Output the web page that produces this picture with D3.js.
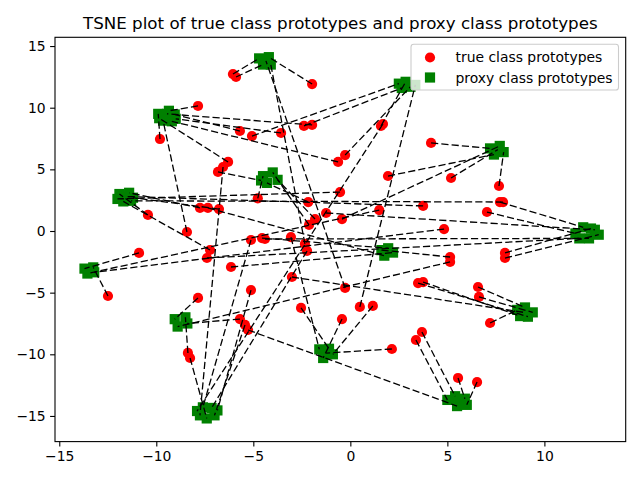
<!DOCTYPE html>
<html>
<head>
<meta charset="utf-8">
<title>TSNE plot of prototypes</title>
<script src="https://cdn.jsdelivr.net/npm/d3@7/dist/d3.min.js"></script>
<style>
body { margin: 0; background: #fff; }
svg text { font-family: "DejaVu Sans", sans-serif; fill: #000; }
</style>
</head>
<body>
<script>
// true class prototypes (red) and the proxy each one is linked to (green)
var trueX = [-6.05, -5.89, -1.97, -2.34, -0.27,
             -5.07, -2.39, 1.58, -0.27, 0.49,
             -7.85, -9.81, -5.69, -3.57, -1.97, -0.63, -8.42, -6.30,
             4.16, 1.94, 5.19, 7.66, -0.43,
             -4.77, -2.13, -1.82, -2.17, -6.82,
             -10.43, -7.75, -6.77, -7.23, -0.53, 3.75, 7.87,
             7.04, 7.71, 7.97, 7.97, -4.40, -7.39, -1.25,
             5.14, -4.55, -6.15, -7.34,
             -10.89, -12.49, 4.83, 1.49,
             7.20, 6.58, 6.63, 3.49, 3.75, -3.01,
             -7.85, -8.37, -5.69, 5.14,
             -3.06, -2.54, 1.16, -0.43, 2.14,
             1.68, -5.12, -2.23, -5.12, -5.43, -8.26, -6.56,
             3.38, 3.69, 5.55, 6.53, -5.27];
var trueY = [12.73, 12.49, 11.92, -1.05, -4.62,
             7.70, 8.52, 8.52, 6.16, -6.16,
             10.14, 7.46, 8.11, 7.95, 8.60, 5.60, -0.08, 5.60,
             7.14, 4.46, 4.30, 3.65, 0.97,
             2.65, 0.49, 0.97, 2.35, 4.79,
             1.30, 1.87, 1.78, -1.54, 3.16, 2.03, 2.35,
             1.54, 2.35, -1.78, -2.19, -0.65, -2.19, 1.46,
             -2.11, -0.57, -2.92, 1.87,
             -1.78, -5.27, 0.16, 1.70,
             -7.46, -4.54, -5.35, -4.22, -4.14, -3.73,
             -5.43, -9.89, -7.14, -2.51,
             -0.49, -6.24, -6.08, -7.14, -9.57,
             8.68, -0.73, -1.62, -4.79, -7.62, -10.30, 5.19,
             -8.84, -8.19, -11.92, -12.25, -8.03];
var proxyX = [-4.7, -4.5, -4.2, -4.1, -4.35,
              2.5, 2.65, 2.85, 3.1, 3.35,
              -9.35, -9.9, -9.05, -9.0, -9.45, -9.2, -9.65, -9.85,
              7.2, 7.4, 7.6, 7.9, 7.7,
              -4.5, -4.0, -3.75, -4.3, -4.6,
              -11.9, -11.4, -11.2, -11.7, -12.0, -11.55, -11.3,
              11.6, 12.0, 12.4, 12.8, 12.3, 11.8, 12.6,
              1.6, 1.95, 2.2, 1.75,
              -13.7, -13.25, -13.2, -13.55,
              8.6, 9.0, 9.4, 9.15, 8.75, 8.95,
              -9.05, -8.5, -8.4, -8.9,
              -1.6, -1.1, -0.9, -1.4, -1.25,
              -7.9, -7.6, -7.15, -6.85, -7.0, -7.4, -7.75,
              5.0, 5.4, 5.9, 6.0, 5.5];
var proxyY = [14.0, 13.5, 14.1, 13.5, 13.8,
              11.95, 11.6, 12.1, 11.7, 11.85,
              9.75, 9.5, 9.45, 9.1, 9.5, 8.9, 8.95, 9.15,
              6.7, 6.2, 6.6, 6.4, 6.9,
              4.45, 4.75, 4.15, 3.9, 4.1,
              3.0, 3.1, 2.7, 2.4, 2.6, 2.8, 2.45,
              -0.2, 0.3, 0.2, -0.3, -0.6, -0.6, 0.1,
              -1.55, -1.4, -1.75, -2.0,
              -3.05, -2.95, -3.35, -3.45,
              -6.4, -6.2, -6.6, -6.95, -6.9, -6.6,
              -7.15, -7.0, -7.5, -7.75,
              -9.6, -9.55, -10.0, -10.3, -9.9,
              -14.6, -14.3, -14.35, -14.55, -14.95, -15.2, -14.95,
              -13.7, -13.4, -13.6, -14.1, -14.2];

var xTicks = [-15, -10, -5, 0, 5, 10];
var yTicks = [-15, -10, -5, 0, 5, 10, 15];
var legendLabels = ["true class prototypes", "proxy class prototypes"];

var W = 640, H = 480;
var axL = 55, axR = 625.7, axT = 37.3, axB = 441.6;
var ms = 10.2; // marker size in px (face + edge)

var x = d3.scaleLinear().domain([-15.22, 14.19]).range([axL, axR]);
var y = d3.scaleLinear().domain([-17.08, 15.71]).range([axB, axT]);

var svg = d3.select("body").append("svg").attr("width", W).attr("height", H);

var pts = trueX.map(function(d, i) {
  return { tx: d, ty: trueY[i], px: proxyX[i], py: proxyY[i] };
});

// red true prototypes
svg.append("g").selectAll("circle").data(pts).enter().append("circle")
  .attr("cx", function(d) { return x(d.tx); })
  .attr("cy", function(d) { return y(d.ty); })
  .attr("r", ms / 2)
  .attr("fill", "#ff0000");

// green proxy prototypes
svg.append("g").selectAll("rect").data(pts).enter().append("rect")
  .attr("x", function(d) { return x(d.px) - ms / 2; })
  .attr("y", function(d) { return y(d.py) - ms / 2; })
  .attr("width", ms).attr("height", ms)
  .attr("fill", "#008000");

// dashed links
svg.append("g").selectAll("line").data(pts).enter().append("line")
  .attr("x1", function(d) { return x(d.tx); })
  .attr("y1", function(d) { return y(d.ty); })
  .attr("x2", function(d) { return x(d.px); })
  .attr("y2", function(d) { return y(d.py); })
  .attr("stroke", "#000")
  .attr("stroke-width", 1.3)
  .attr("stroke-dasharray", "7.2,3.1");

// axes
var fmt = function(d) { return d < 0 ? "\u2212" + Math.abs(d) : String(d); };
var gx = svg.append("g").attr("transform", "translate(0," + axB + ")")
  .call(d3.axisBottom(x).tickValues(xTicks).tickFormat(fmt).tickSize(4.9).tickPadding(4.4).tickSizeOuter(0));
var gy = svg.append("g").attr("transform", "translate(" + axL + ",0)")
  .call(d3.axisLeft(y).tickValues(yTicks).tickFormat(fmt).tickSize(4.9).tickPadding(4.4).tickSizeOuter(0));
[gx, gy].forEach(function(g) {
  g.select(".domain").remove();
  g.selectAll("line").attr("stroke", "#000").attr("stroke-width", 1.1);
  g.selectAll("text").attr("font-size", "13.9px").attr("font-family", "DejaVu Sans, sans-serif").attr("fill", "#000");
});

svg.append("rect")
  .attr("x", axL).attr("y", axT)
  .attr("width", axR - axL).attr("height", axB - axT)
  .attr("fill", "none").attr("stroke", "#000").attr("stroke-width", 1.1);

// title
svg.append("text")
  .attr("x", (axL + axR) / 2).attr("y", 29)
  .attr("text-anchor", "middle")
  .attr("font-size", "16.7px")
  .text("TSNE plot of true class prototypes and proxy class prototypes");

// legend
var lg = svg.append("g");
lg.append("rect")
  .attr("x", 411).attr("y", 44.3).attr("width", 207.5).attr("height", 45.7)
  .attr("rx", 2.8).attr("ry", 2.8)
  .attr("fill", "#fff").attr("fill-opacity", 0.8)
  .attr("stroke", "#cccccc").attr("stroke-width", 1.1);
lg.append("circle").attr("cx", 430).attr("cy", 57.5).attr("r", ms / 2).attr("fill", "#ff0000");
lg.append("rect").attr("x", 430 - ms / 2).attr("y", 77.5 - ms / 2)
  .attr("width", ms).attr("height", ms).attr("fill", "#008000");
lg.selectAll("text.lbl").data(legendLabels).enter().append("text")
  .attr("class", "lbl")
  .attr("x", 455.5)
  .attr("y", function(d, i) { return 62.3 + i * 20.3; })
  .attr("font-size", "13.9px")
  .text(function(d) { return d; });
</script>
</body>
</html>
